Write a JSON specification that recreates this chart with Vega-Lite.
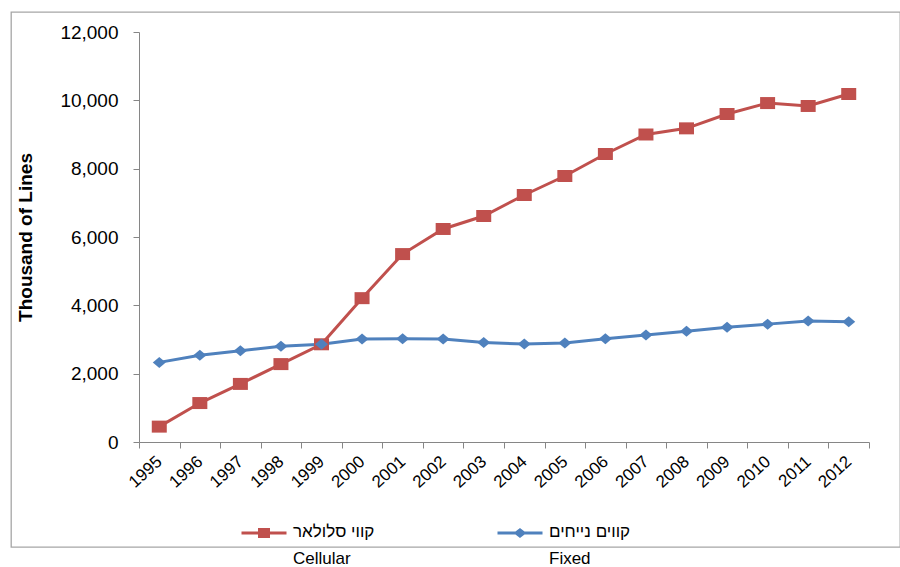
{
  "$schema": "https://vega.github.io/schema/vega-lite/v6.json",
  "width": 889,
  "height": 535,
  "autosize": {"type": "none"},
  "padding": {"left": 11, "top": 12, "right": 0, "bottom": 20},
  "background": "white",
  "config": {
    "view": {"stroke": "#A6A6A6", "strokeWidth": 1.3},
    "font": "Liberation Sans"
  },
  "data": {
    "values": [
      {"year": "1995", "series": "קווי סלולאר", "value": 450},
      {"year": "1996", "series": "קווי סלולאר", "value": 1140},
      {"year": "1997", "series": "קווי סלולאר", "value": 1700},
      {"year": "1998", "series": "קווי סלולאר", "value": 2280},
      {"year": "1999", "series": "קווי סלולאר", "value": 2860},
      {"year": "2000", "series": "קווי סלולאר", "value": 4210},
      {"year": "2001", "series": "קווי סלולאר", "value": 5500},
      {"year": "2002", "series": "קווי סלולאר", "value": 6235},
      {"year": "2003", "series": "קווי סלולאר", "value": 6615},
      {"year": "2004", "series": "קווי סלולאר", "value": 7230},
      {"year": "2005", "series": "קווי סלולאר", "value": 7785},
      {"year": "2006", "series": "קווי סלולאר", "value": 8430},
      {"year": "2007", "series": "קווי סלולאר", "value": 9000},
      {"year": "2008", "series": "קווי סלולאר", "value": 9180},
      {"year": "2009", "series": "קווי סלולאר", "value": 9600},
      {"year": "2010", "series": "קווי סלולאר", "value": 9920},
      {"year": "2011", "series": "קווי סלולאר", "value": 9835},
      {"year": "2012", "series": "קווי סלולאר", "value": 10185},
      {"year": "1995", "series": "קווים נייחים", "value": 2330},
      {"year": "1996", "series": "קווים נייחים", "value": 2540},
      {"year": "1997", "series": "קווים נייחים", "value": 2670},
      {"year": "1998", "series": "קווים נייחים", "value": 2800},
      {"year": "1999", "series": "קווים נייחים", "value": 2860},
      {"year": "2000", "series": "קווים נייחים", "value": 3015},
      {"year": "2001", "series": "קווים נייחים", "value": 3020},
      {"year": "2002", "series": "קווים נייחים", "value": 3015},
      {"year": "2003", "series": "קווים נייחים", "value": 2910},
      {"year": "2004", "series": "קווים נייחים", "value": 2870},
      {"year": "2005", "series": "קווים נייחים", "value": 2900},
      {"year": "2006", "series": "קווים נייחים", "value": 3020},
      {"year": "2007", "series": "קווים נייחים", "value": 3130},
      {"year": "2008", "series": "קווים נייחים", "value": 3240},
      {"year": "2009", "series": "קווים נייחים", "value": 3360},
      {"year": "2010", "series": "קווים נייחים", "value": 3450},
      {"year": "2011", "series": "קווים נייחים", "value": 3540},
      {"year": "2012", "series": "קווים נייחים", "value": 3520}
    ]
  },
  "encoding": {
    "x": {
      "field": "year",
      "type": "ordinal",
      "scale": {"type": "band", "range": [128, 858], "paddingInner": 0, "paddingOuter": 0},
      "axis": {
        "title": null,
        "orient": "bottom",
        "offset": -105,
        "labelAngle": -42,
        "labelAlign": "right",
        "labelBaseline": "middle",
        "labelFontSize": 17,
        "labelColor": "#000000",
        "labelPadding": 11,
        "labelOverlap": false,
        "tickBand": "extent",
        "tickSize": 6,
        "tickColor": "#868686",
        "domainColor": "#868686",
        "grid": false
      }
    },
    "y": {
      "field": "value",
      "type": "quantitative",
      "scale": {"domain": [0, 12000], "range": [430, 20], "nice": false},
      "axis": {
        "title": "Thousand of Lines",
        "offset": -128,
        "values": [0, 2000, 4000, 6000, 8000, 10000, 12000],
        "format": ",.0f",
        "labelFontSize": 19,
        "labelColor": "#000000",
        "labelPadding": 15,
        "tickSize": 6,
        "tickColor": "#868686",
        "domainColor": "#868686",
        "grid": false,
        "titleFontSize": 19,
        "titleFontWeight": "bold",
        "titleColor": "#000000",
        "titlePadding": 24
      }
    },
    "color": {
      "field": "series",
      "type": "nominal",
      "scale": {"domain": ["קווי סלולאר", "קווים נייחים"], "range": ["#C0504D", "#4F81BD"]},
      "legend": {
        "title": null,
        "orient": "none",
        "legendX": 229,
        "legendY": 497,
        "direction": "horizontal",
        "symbolType": "M-1,0H1",
        "symbolSize": 2025,
        "symbolStrokeWidth": 3,
        "labelFontSize": 17,
        "labelColor": "#000000",
        "labelOffset": 5,
        "labelBaseline": "top",
        "labelExpr": "datum.label == 'קווי סלולאר' ? ['קווי סלולאר', 'Cellular'] : ['קווים נייחים', 'Fixed']",
        "columnPadding": 116,
        "gridAlign": "all",
        "padding": 0,
        "encode": {
          "symbols": {
            "update": {
              "shape": {"signal": "datum.value == 'קווי סלולאר' ? 'M-1,0H1M-0.2,-0.16H0.2V0.16H-0.2Z' : 'M-1,0H1M0,-0.14L0.18,0L0,0.14L-0.18,0Z'"},
              "size": {"value": 2025},
              "fill": {"signal": "scale('color', datum.value)"},
              "stroke": {"signal": "scale('color', datum.value)"},
              "strokeWidth": {"value": 3},
              "opacity": {"value": 1}
            }
          },
          "labels": {
            "update": {
              "lineHeight": {"value": 27},
              "dy": {"value": -9}
            }
          }
        }
      }
    }
  },
  "layer": [
    {"mark": {"type": "line", "strokeWidth": 3}},
    {
      "transform": [{"filter": "datum.series == 'קווי סלולאר'"}],
      "mark": {"type": "point", "filled": true, "opacity": 1, "size": 400, "shape": "M-0.75,-0.6H0.75V0.6H-0.75Z"}
    },
    {
      "transform": [{"filter": "datum.series == 'קווים נייחים'"}],
      "mark": {"type": "point", "filled": true, "opacity": 1, "size": 400, "shape": "M0,-0.55L0.65,0L0,0.55L-0.65,0Z"}
    }
  ]
}
